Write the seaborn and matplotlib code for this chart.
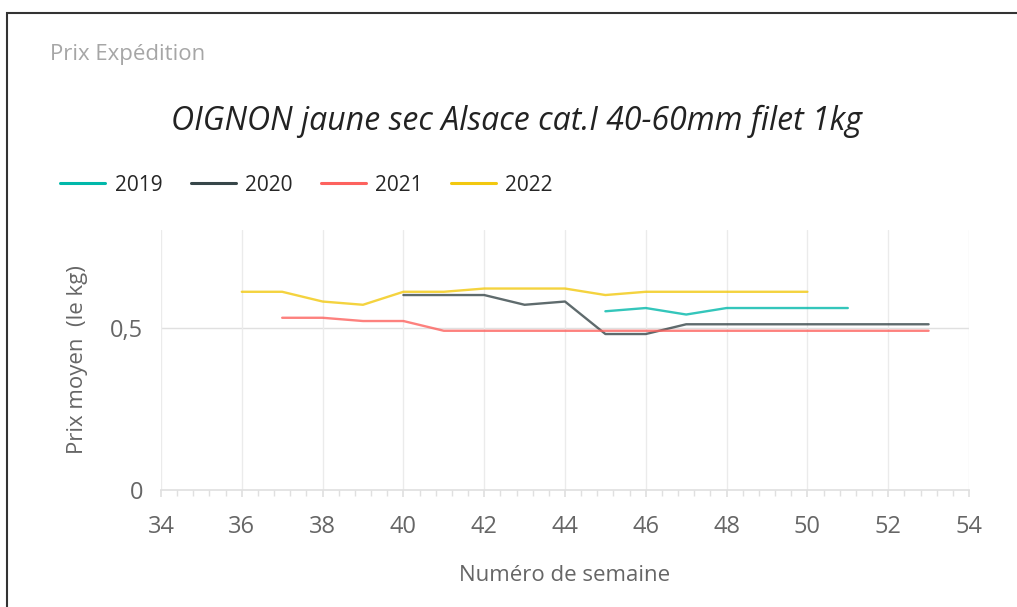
"""Prix Expédition — OIGNON jaune sec Alsace, prix moyen par semaine et par campagne."""
import numpy as np
import pandas as pd
import matplotlib
matplotlib.use("Agg")
import matplotlib.pyplot as plt
from matplotlib.lines import Line2D
from matplotlib.patches import Rectangle
from matplotlib.ticker import FuncFormatter, MultipleLocator
import seaborn as sns

# --- données ---
ANNEES = ["2019", "2020", "2021", "2022"]
SEMAINES_2019 = list(range(45, 52))
PRIX_2019 = [0.55, 0.56, 0.54, 0.56, 0.56, 0.56, 0.56]
SEMAINES_2020 = list(range(40, 54))
PRIX_2020 = [0.60, 0.60, 0.60, 0.57, 0.58, 0.48, 0.48,
             0.51, 0.51, 0.51, 0.51, 0.51, 0.51, 0.51]
SEMAINES_2021 = list(range(37, 54))
PRIX_2021 = [0.53, 0.53, 0.52, 0.52] + [0.49] * 13
SEMAINES_2022 = list(range(36, 51))
PRIX_2022 = [0.61, 0.61, 0.58, 0.57, 0.61, 0.61, 0.62, 0.62,
             0.62, 0.60, 0.61, 0.61, 0.61, 0.61, 0.61]

COULEURS = {"2019": "#01B8AA", "2020": "#374649",
            "2021": "#FD625E", "2022": "#F2C80F"}

series = {"2019": (SEMAINES_2019, PRIX_2019), "2020": (SEMAINES_2020, PRIX_2020),
          "2021": (SEMAINES_2021, PRIX_2021), "2022": (SEMAINES_2022, PRIX_2022)}
df = pd.concat([pd.DataFrame({"semaine": s, "prix": p, "annee": a})
                for a, (s, p) in series.items()], ignore_index=True)

sns.set_theme(style="white")
plt.rcParams["font.family"] = ["Open Sans", "DejaVu Sans"]

fig = plt.figure(figsize=(10.17, 6.07), dpi=100)
ax = fig.add_axes([0.1583, 0.1928, 0.7945, 0.4282])

sns.lineplot(data=df, x="semaine", y="prix", hue="annee", hue_order=ANNEES,
             palette=COULEURS, ax=ax, linewidth=1.7, alpha=0.8, legend=False)

ax.set_xlim(34, 54)
ax.set_ylim(0, 0.8)
ax.xaxis.set_major_locator(MultipleLocator(2))
ax.xaxis.set_minor_locator(MultipleLocator(0.4))
ax.set_yticks([0, 0.5])
ax.yaxis.set_major_formatter(FuncFormatter(lambda v, _: f"{v:g}".replace(".", ",")))

ax.grid(axis="x", which="major", color="#ebebeb", linewidth=1)
ax.axhline(0.5, color="#e0e0e0", linewidth=1, zorder=0)
for side in ["top", "right", "left"]:
    ax.spines[side].set_visible(False)
ax.spines["bottom"].set_color("#e0e0e0")
ax.tick_params(axis="x", which="both", bottom=True, length=4, color="#e0e0e0",
               labelsize=17, labelcolor="#666666", pad=13)
ax.tick_params(axis="x", which="major", length=5)
ax.tick_params(axis="y", left=False, labelsize=17, labelcolor="#666666", pad=7)

ax.set_xlabel("Numéro de semaine", fontsize=16, color="#666666", labelpad=19)
ax.set_ylabel("Prix moyen  (le kg)", fontsize=16, color="#666666", labelpad=16)

fig.text(0.049, 0.911, "Prix Expédition", fontsize=16, color="#a6a6a6",
         ha="left", va="center")
fig.text(0.508, 0.8, "OIGNON jaune sec Alsace cat.I 40-60mm filet 1kg",
         fontsize=23, style="italic", color="#222222", ha="center", va="center")

poignees = [Line2D([], [], color=COULEURS[a], linewidth=2.2) for a in ANNEES]
fig.legend(poignees, ANNEES, loc="center left", bbox_to_anchor=(0.041, 0.695),
           ncol=4, frameon=False, fontsize=15, handlelength=2.16,
           handletextpad=0.45, columnspacing=1.35)

# cadre du visuel (bords haut et gauche visibles)
fig.patches.append(Rectangle((0.007, -0.1), 1.2, 1.078, transform=fig.transFigure,
                             fill=False, edgecolor="#333333", linewidth=1.5))

fig.savefig("out.png", dpi=100)
